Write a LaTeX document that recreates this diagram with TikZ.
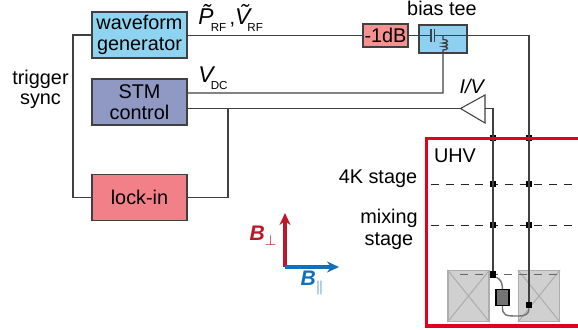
\documentclass[tikz,border=0pt]{standalone}
\usepackage{amsmath,amssymb}
\usepackage{xcolor}
\usepackage{fontspec}
\setmainfont{Liberation Sans}
\usetikzlibrary{positioning}
\usetikzlibrary{arrows.meta}
\usetikzlibrary{calc}
\definecolor{wavecolor}{RGB}{142,212,240}
\definecolor{stmcolor}{RGB}{144,153,196}
\definecolor{lockcolor}{RGB}{242,128,136}
\definecolor{attcolor}{RGB}{245,145,145}
\definecolor{teecolor}{RGB}{142,208,240}
\definecolor{wirecolor}{RGB}{64,64,64}
\definecolor{uhvcolor}{RGB}{226,0,26}
\definecolor{perpcolor}{RGB}{190,22,38}
\definecolor{paracolor}{RGB}{16,112,188}
\definecolor{magcolor}{RGB}{208,208,208}
\newcommand{\lowtxt}[1]{\kern-1.6pt\raisebox{-4pt}{\fontsize{6.6}{8}\selectfont #1}}
\newcommand{\bigit}[1]{{\fontsize{13}{14}\selectfont\itshape #1}}

\begin{document}
\begin{tikzpicture}[
    x=0.02cm, y=-0.02cm,
    lab/.style={font=\fontsize{11.3}{11.5}\selectfont, align=center, inner sep=0pt},
    block/.style={rectangle, draw=wirecolor, line width=0.8pt, minimum width=1.9cm, minimum height=0.92cm, align=center, inner sep=0pt, font=\fontsize{11.3}{12}\selectfont},
    wire/.style={draw=wirecolor, line width=0.75pt},
    dashline/.style={draw=black!85, line width=0.55pt, dash pattern=on 4.6pt off 3.8pt},
    dotnode/.style={rectangle, fill=black, minimum size=0.125cm, inner sep=0pt},
    magnet/.style={rectangle, draw=black!32, fill=magcolor, line width=0.6pt, minimum width=0.82cm, minimum height=1.02cm, inner sep=0pt},
    arrowp/.style={-{Stealth[length=2.4mm,width=2.2mm]}, line width=2pt, draw=perpcolor},
    arrowb/.style={-{Stealth[length=2.4mm,width=2.2mm]}, line width=2pt, draw=paracolor}
]
\useasboundingbox (0,0) rectangle (578,329);

% Instruments
\node[block, fill=wavecolor] (wave) at (139.5,35) {waveform\\generator};
\node[block, fill=stmcolor] (stm) at (139.5,102) {STM\\control};
\node[block, fill=lockcolor] (lock) at (139.5,197.5) {lock-in};

% Attenuator and bias tee
\node[block, fill=attcolor, minimum width=0.9cm, minimum height=0.46cm] (att) at (385.5,35.5) {-1dB};
\node[block, fill=teecolor, minimum width=0.96cm, minimum height=0.56cm] (tee) at (443,39) {};

% Amplifier
\coordinate (amptip) at (460.5,108.5);
\coordinate (amptop) at (485,95);
\coordinate (ampbot) at (485,123);
\draw[wire, line width=0.6pt, fill=white] (amptip) -- (amptop) -- (ampbot) -- cycle;
\coordinate (ampout) at (485,108.5);

% UHV chamber
\coordinate (uhvtr) at (578,138.5);
\coordinate (uhvtl) at (426.5,138.5);
\coordinate (uhvbl) at (426.5,326);
\coordinate (uhvbr) at (578,326);

% Magnet
\node[magnet] (magl) at (468.5,296) {};
\node[magnet] (magr) at (539,296) {};
\foreach \m in {magl,magr} {
    \draw[black!32, line width=0.6pt] (\m.north west) -- (\m.south east);
    \draw[black!32, line width=0.6pt] (\m.north east) -- (\m.south west);
}

% Stage lines
\coordinate (fourl) at (431,184);
\coordinate (fourr) at (578,184);
\coordinate (mixl) at (431,225);
\coordinate (mixr) at (578,225);
\coordinate (magdl) at (460,274.5);
\coordinate (magdr) at (560,274.5);
\draw[dashline] (fourl) -- (fourr);
\draw[dashline] (mixl) -- (mixr);
\draw[dashline, draw=black!60] (magdl) -- (magdr);

% Junctions
\node[dotnode] (ia) at (493,138) {};
\node[dotnode] (ib) at (493,184) {};
\node[dotnode] (ic) at (493,225) {};
\node[dotnode] (id) at (493,274.5) {};
\node[dotnode] (ra) at (529,138) {};
\node[dotnode] (rb) at (529,184) {};
\node[dotnode] (rc) at (529,225) {};
\node[dotnode] (rd) at (529,305) {};

% Sample
\node[rectangle, draw=black, fill=black!55, line width=0.6pt, minimum width=0.26cm, minimum height=0.31cm, inner sep=0pt] (sample) at (502.5,297.5) {};

% RF path
\coordinate (capl) at (431,35.5);
\coordinate (capr) at (434.5,35.5);
\coordinate (rfc) at (529,35.5);
\draw[wire] (wave.east |- att.west) -- (att.west);
\draw[wire] (att.east) -- (capl);
\draw[wire] (capr) -- (rfc) -- (rd);
\draw[wire, line width=0.9pt] (431,29) -- (431,42);
\draw[wire, line width=0.9pt] (434.5,29) -- (434.5,42);

% DC path
\coordinate (coiltop) at (443,35.5);
\coordinate (coilbot) at (443,51);
\coordinate (dcc) at (443,93);
\draw[wire] (coiltop) -- ($(coiltop)+(0,4)$)
    .. controls (449,39.5) and (449,43) .. (443,43)
    .. controls (449,43) and (449,46.5) .. (443,46.5)
    .. controls (449,46.5) and (449,50) .. (443,50) -- (coilbot) -- (dcc) -- (stm.east |- dcc);

% Current path
\coordinate (lockj) at (228,108.5);
\draw[wire] (stm.east |- lockj) -- (amptip);
\draw[wire] (lockj) |- (lock.east);
\draw[wire] (ampout) -| (id);

% Sync
\coordinate (synct) at (73,35);
\coordinate (syncb) at (73,197.5);
\draw[wire] (wave.west) -- (synct) -- (syncb) -- (lock.west);

% Sample wiring
\draw[draw=black!55, line width=0.8pt] (id) .. controls (500,280) and (502,280) .. (sample.north);
\draw[draw=black!55, line width=0.8pt] (sample.south) .. controls (502,316) and (506,316) .. (518,316) .. controls (526,316) and (529,314) .. (rd);

% Chamber wall
\draw[draw=uhvcolor, line width=1.75pt] (uhvtr) -- (uhvtl) -- (uhvbl) -- (uhvbr);

% Field arrows
\coordinate (origin) at (285,267);
\coordinate (perptip) at (285,213);
\coordinate (paratip) at (339,267);
\draw[arrowp] (origin) -- (perptip);
\draw[arrowb] (origin) -- (paratip);

% Labels
\node[lab] (trig) at (40.5,89.5) {trigger\\sync};
\node[lab, anchor=base west] (rf) at (198,24) {\bigit{\~P}\lowtxt{RF}\,,\bigit{\~V}\lowtxt{RF}};
\node[lab, anchor=base west] (dc) at (198,82) {\bigit{V}\lowtxt{DC}};
\node[lab] (biastee) at (442,8) {bias tee};
\node[lab] (iv) at (472.5,86) {\textit{I/V}};
\node[lab] (uhv) at (455,156) {UHV};
\node[lab, anchor=east] (four) at (417.5,178.5) {4K stage};
\node[lab, font=\fontsize{11.3}{12.5}\selectfont] (mixing) at (389,229.5) {mixing\\stage};
\node[lab, text=perpcolor, font=\fontsize{12}{14}\selectfont\bfseries\itshape] (bperp) at (263,236) {B\raisebox{-3pt}{\footnotesize\mdseries\upshape $\perp$}};
\node[lab, text=paracolor, font=\fontsize{12}{14}\selectfont\bfseries\itshape] (bpara) at (312,283) {B\raisebox{-3.5pt}{\footnotesize\mdseries\upshape $\parallel$}};

\end{tikzpicture}
\end{document}
